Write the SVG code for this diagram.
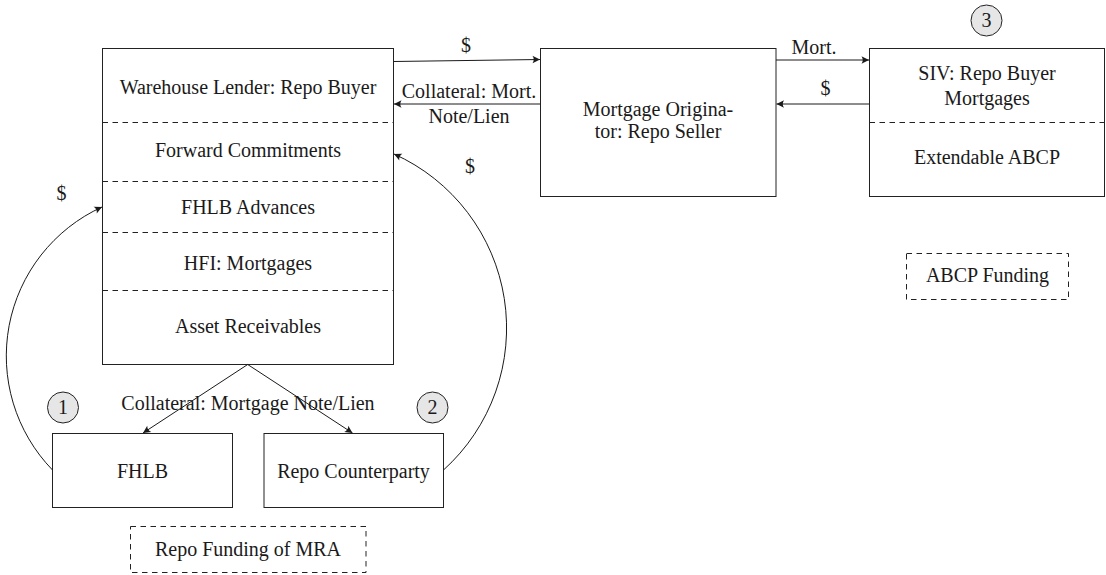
<svg xmlns="http://www.w3.org/2000/svg" width="1106" height="575" viewBox="0 0 1106 575">
<style>
text{font-family:"Liberation Serif","DejaVu Serif","Times New Roman",serif;font-size:20px;fill:#1a1a1a;text-anchor:middle}
.box{fill:#fff;stroke:#222;stroke-width:1}
.dash{fill:none;stroke:#222;stroke-width:1;stroke-dasharray:5.5 4.5}
.circ{fill:#e6e6e6;stroke:#222;stroke-width:1}
.conn{fill:none;stroke:#1a1a1a;stroke-width:1;marker-end:url(#ah)}
</style>
<defs>
<marker id="ah" markerUnits="userSpaceOnUse" markerWidth="10" markerHeight="10" viewBox="-7 -4 8 8" refX="0" refY="0" orient="auto">
<path d="M0,0 L-6,-3 Q-4,0 -6,3 Z" fill="#1a1a1a"/>
</marker>
</defs>
<rect width="1106" height="575" fill="#fff"/>
<g id="warehouse">
<rect class="box" x="102.5" y="48.5" width="291" height="316"/>
<line class="dash" x1="102.5" y1="122.5" x2="393.5" y2="122.5"/>
<line class="dash" x1="102.5" y1="181.5" x2="393.5" y2="181.5"/>
<line class="dash" x1="102.5" y1="232.5" x2="393.5" y2="232.5"/>
<line class="dash" x1="102.5" y1="290.5" x2="393.5" y2="290.5"/>
<text x="248" y="93.5">Warehouse Lender: Repo Buyer</text>
<text x="248" y="156.5">Forward Commitments</text>
<text x="248" y="214">FHLB Advances</text>
<text x="248" y="270">HFI: Mortgages</text>
<text x="248" y="333">Asset Receivables</text>
</g>
<g id="originator">
<rect class="box" x="540.5" y="48.5" width="235.5" height="148"/>
<text x="658" y="116">Mortgage Origina-</text>
<text x="658" y="137.5">tor: Repo Seller</text>
</g>
<g id="siv">
<rect class="box" x="869.5" y="48.5" width="235" height="148"/>
<line class="dash" x1="869.5" y1="122.5" x2="1104.5" y2="122.5"/>
<text x="987" y="80">SIV: Repo Buyer</text>
<text x="987" y="105">Mortgages</text>
<text x="987" y="164">Extendable ABCP</text>
</g>
<g id="circle3">
<circle class="circ" cx="986.5" cy="20.5" r="15.5"/>
<text x="986.5" y="27">3</text>
</g>
<g id="abcp-funding">
<rect class="dash" x="906.5" y="253.5" width="162" height="46"/>
<text x="987.5" y="282">ABCP Funding</text>
</g>
<g id="fhlb">
<rect class="box" x="52.5" y="433.5" width="180" height="74"/>
<text x="142.5" y="477.5">FHLB</text>
</g>
<g id="repo-counterparty">
<rect class="box" x="264" y="433.5" width="179.5" height="74"/>
<text x="353.5" y="477.5">Repo Counterparty</text>
</g>
<g id="circle1">
<circle class="circ" cx="63" cy="407.5" r="15.5"/>
<text x="63" y="414">1</text>
</g>
<g id="circle2">
<circle class="circ" cx="432.5" cy="407.5" r="15.5"/>
<text x="432.5" y="414">2</text>
</g>
<g id="repo-funding">
<rect class="dash" x="130.5" y="526.5" width="235.5" height="46"/>
<text x="248" y="555.5">Repo Funding of MRA</text>
</g>
<g id="connectors">
<path class="conn" d="M393.5,61.5 L540,59.5"/>
<text x="466" y="52">$</text>
<path class="conn" d="M540,104 L394,104"/>
<text x="469" y="97.5">Collateral: Mort.</text>
<text x="469" y="123">Note/Lien</text>
<path class="conn" d="M776,60 L869,60"/>
<text x="814" y="53.5">Mort.</text>
<path class="conn" d="M869,104 L776.5,104"/>
<text x="825.5" y="95">$</text>
<path class="conn" d="M247.7,364.5 L143,433"/>
<path class="conn" d="M247.7,364.5 L352.5,433"/>
<text x="248" y="409.5">Collateral: Mortgage Note/Lien</text>
<path class="conn" d="M52.5,470 A163.8,163.8 0 0 1 102,207"/>
<text x="61.5" y="199.5">$</text>
<path class="conn" d="M443.5,470 A191,191 0 0 0 394,154"/>
<text x="470" y="173">$</text>
</g>
</svg>
